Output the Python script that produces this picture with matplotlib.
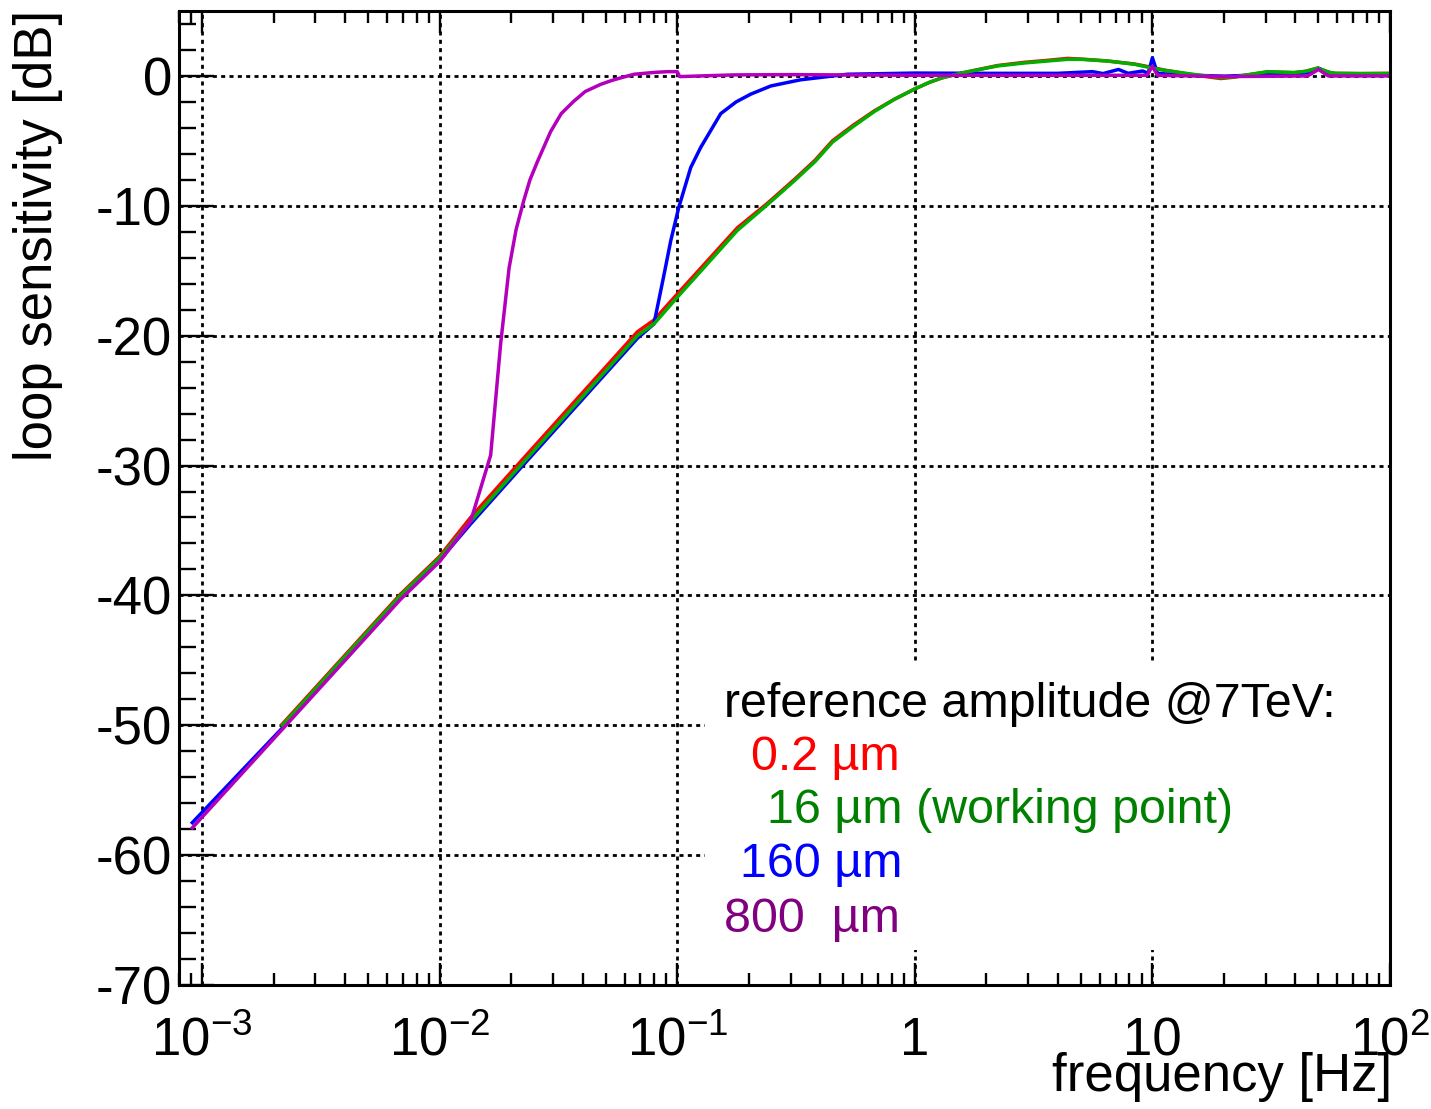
import matplotlib
matplotlib.use('Agg')
import matplotlib.pyplot as plt
from matplotlib.patches import Rectangle
from matplotlib.ticker import LogLocator, MultipleLocator, NullFormatter

plt.rcParams['font.family'] = ['Liberation Sans', 'DejaVu Sans']
plt.rcParams['axes.unicode_minus'] = False

# values (frequency in Hz, sensitivity in dB)
f_red = [0.00218, 0.00685, 0.01, 0.0135, 0.0219, 0.068, 0.0798, 0.1, 0.179, 0.24, 0.31,
         0.38, 0.45, 0.55, 0.674, 0.82, 1.0, 1.15, 1.3, 1.6, 2.23, 2.9, 3.62, 4.4, 5.0, 6.47,
         8.4, 10.0, 11.2, 14.1, 16.0, 19.4, 22.0, 26.0, 30.5, 39.5, 44.0, 49.6, 55.0, 58.0,
         75.5, 97.7]
db_red = [-49.9, -39.9, -37.0, -34.0, -29.7, -19.7, -18.8, -16.8, -11.7, -9.8, -8.0,
          -6.5, -5.0, -3.8, -2.7, -1.8, -1.0, -0.5, -0.15, 0.25, 0.8, 1.05, 1.2, 1.35, 1.3,
          1.15, 0.92, 0.65, 0.45, 0.15, 0.0, -0.2, -0.1, 0.12, 0.3, 0.25, 0.35, 0.6, 0.3, 0.2,
          0.18, 0.2]

f_green = [0.00218, 0.00685, 0.01, 0.0135, 0.0219, 0.068, 0.0798, 0.1, 0.179, 0.24, 0.31,
           0.38, 0.45, 0.55, 0.674, 0.82, 1.0, 1.15, 1.3, 1.6, 2.23, 2.9, 3.62, 4.4, 5.0, 6.47,
           8.4, 10.0, 11.2, 14.1, 16.0, 19.4, 22.0, 26.0, 30.5, 39.5, 44.0, 49.6, 55.0, 58.0,
           75.5, 97.7]
db_green = [-50.0, -40.0, -37.1, -34.3, -30.0, -20.0, -19.1, -17.05, -11.9, -9.9, -8.1,
            -6.6, -5.1, -3.9, -2.75, -1.8, -1.0, -0.5, -0.15, 0.25, 0.77, 1.0, 1.15, 1.28,
            1.28, 1.15, 0.9, 0.6, 0.44, 0.18, 0.05, -0.13, -0.08, 0.13, 0.33, 0.26, 0.35, 0.6,
            0.3, 0.2, 0.18, 0.18]

f_blue = [0.00091, 0.00218, 0.00685, 0.01, 0.0135, 0.0219, 0.068, 0.0798, 0.088, 0.0939,
          0.1016, 0.114, 0.1256, 0.1525, 0.177, 0.204, 0.248, 0.33, 0.521, 1.0, 2.0, 4.0, 5.6,
          6.2, 7.2, 7.9, 9.1, 9.6, 10.0, 10.5, 12.0, 15.0, 20.0, 30.0, 40.0, 45.0, 50.0, 55.0,
          60.0, 100.0]
db_blue = [-57.5, -50.2, -40.2, -37.3, -34.5, -30.2, -20.2, -19.1, -15.3, -12.7,
           -10.1, -7.05, -5.5, -2.9, -2.0, -1.4, -0.77, -0.3, 0.13, 0.22, 0.2, 0.2, 0.33,
           0.18, 0.5, 0.2, 0.38, 0.2, 1.4, 0.2, 0.12, 0.05, -0.02, 0.1, 0.15, 0.25, 0.6, 0.25,
           0.15, 0.15]

f_mag = [0.00091, 0.00218, 0.00685, 0.01, 0.0135, 0.0164, 0.01807, 0.0196, 0.021, 0.0226,
         0.024, 0.0258, 0.0293, 0.0325, 0.0367, 0.041, 0.0476, 0.053, 0.0578, 0.0658, 0.08,
         0.091, 0.1, 0.1024, 0.174, 0.3, 1.0, 5.0, 9.5, 10.0, 10.5, 20.0, 45.0, 50.0, 55.0,
         100.0]
db_mag = [-57.9, -50.3, -40.3, -37.4, -34.3, -29.2, -20.6, -14.8, -11.8, -9.6,
          -8.0, -6.6, -4.3, -2.9, -1.95, -1.2, -0.65, -0.35, -0.15, 0.13, 0.27,
          0.33, 0.33, -0.05, 0.08, 0.1, 0.05, 0.05, 0.05, 0.75, 0.05, -0.05, 0.0, 0.5, 0.0,
          0.0]

x_ticks = [1e-3, 1e-2, 1e-1, 1, 10, 100]
x_ticklabels = [r'$\mathregular{10^{-3}}$', r'$\mathregular{10^{-2}}$', r'$\mathregular{10^{-1}}$',
                '1', '10', r'$\mathregular{10^{2}}$']

legend_title = 'reference amplitude @7TeV:'
legend_labels = ['0.2 µm', '16 µm (working point)', '160 µm', '800  µm']
legend_colors = ['#ff0000', '#008000', '#0000ff', '#800080']

W, H = 1431, 1109
fig = plt.figure(figsize=(W / 100, H / 100), dpi=100)
ax = fig.add_axes([179 / W, 1 - 985 / H, (1390 - 179) / W, (985 - 11) / H])

lw = 2.5
ax.plot(f_red, db_red, color='#ff0000', lw=lw, zorder=2)
ax.plot(f_blue, db_blue, color='#0000ff', lw=lw, zorder=2.1)
ax.plot(f_green, db_green, color='#00b000', lw=lw, zorder=2.2)
ax.plot(f_mag, db_mag, color='#b400bc', lw=lw, zorder=2.3)

ax.set_xscale('log')
ax.set_xlim(8e-4, 100)
ax.set_ylim(-70, 5)

ax.xaxis.set_major_locator(LogLocator(base=10, numticks=12))
ax.xaxis.set_minor_locator(LogLocator(base=10, subs=range(2, 10), numticks=40))
ax.xaxis.set_major_formatter(NullFormatter())
ax.xaxis.set_minor_formatter(NullFormatter())
ax.yaxis.set_major_locator(MultipleLocator(10))
ax.yaxis.set_minor_locator(MultipleLocator(2))

ax.tick_params(axis='x', which='both', direction='in', top=True, bottom=True, width=1.7)
ax.tick_params(axis='x', which='major', length=16)
ax.tick_params(axis='x', which='minor', length=8.6)
ax.tick_params(axis='y', which='both', direction='in', left=True, right=False, width=1.7)
ax.tick_params(axis='y', which='major', length=25, labelsize=38, pad=5)
ax.tick_params(axis='y', which='minor', length=12)
for s in ax.spines.values():
    s.set_linewidth(2.2)

ax.set_axisbelow(True)
ax.grid(True, which='major', color='black', linestyle=(0, (1.45, 1.55)), linewidth=2.0)

# white pave behind the legend text
ax.add_patch(Rectangle((0.434, 0.036), 0.565, 0.295, transform=ax.transAxes,
                       facecolor='white', edgecolor='none', zorder=1))

# x tick labels, aligned on a common baseline like ROOT does
for xv, lab in zip(x_ticks, x_ticklabels):
    ax.text(xv, -0.0719, lab, transform=ax.get_xaxis_transform(), ha='center',
            va='baseline', fontsize=38)

fig.text(38 / W, 1 - 10 / H, 'loop sensitivity [dB]', rotation=90, ha='center',
         va='top', fontsize=38)
fig.text(1392 / W, 1 - 1077 / H, 'frequency [Hz]', ha='right', va='center', fontsize=38)

fig.text(724 / W, 1 - 717 / H, legend_title, ha='left', va='baseline', fontsize=34.8)
leg_x = [751, 767, 740, 724]
leg_y = [770, 823, 877, 932]
for lab, c, xp, yp in zip(legend_labels, legend_colors, leg_x, leg_y):
    fig.text(xp / W, 1 - yp / H, lab, ha='left', va='baseline', fontsize=34.8, color=c)

fig.savefig('out.png', dpi=100)
